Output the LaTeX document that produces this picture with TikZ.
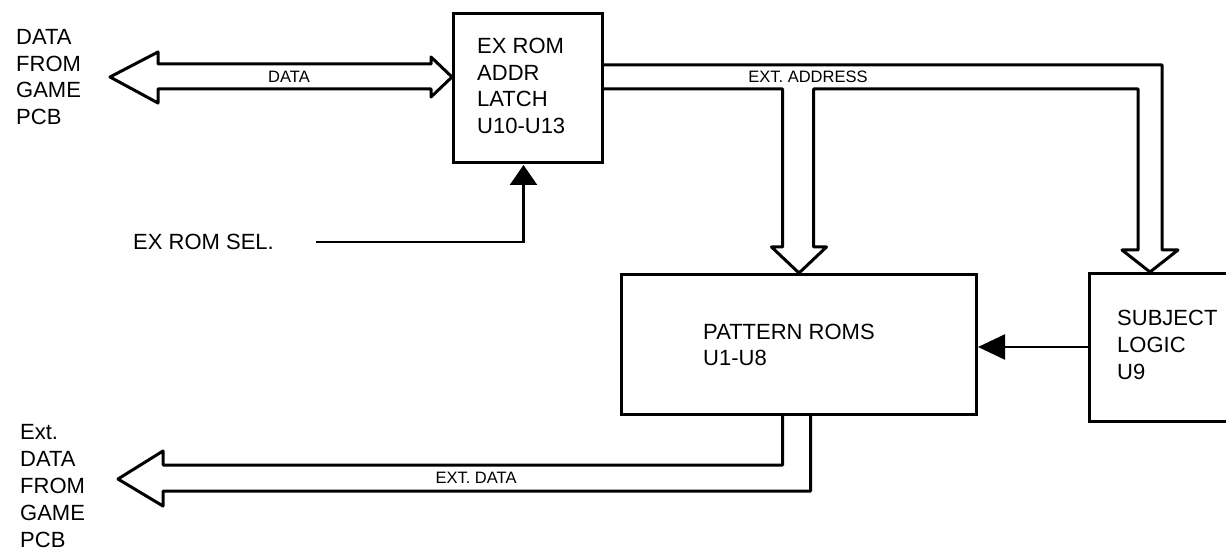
\documentclass[tikz,border=0pt]{standalone}
\usepackage{fontspec}
\setmainfont{Liberation Sans}
\usetikzlibrary{calc,arrows.meta}
\tikzset{
  box/.style={draw, line width=3pt, inner sep=0pt},
  bus/.style={draw, line width=3pt, line join=round},
  sig/.style={draw, line width=2.4pt},
  big/.style={font=\fontsize{22}{26.8}\selectfont, align=left, inner sep=0pt, anchor=west},
  small/.style={font=\fontsize{16.5}{18}\selectfont, inner sep=0pt},
}
\begin{document}
\begin{tikzpicture}[x=1pt,y=-1pt]
\useasboundingbox (0,0) rectangle (1226,553);
\clip (0,0) rectangle (1226,553);

% helper y-levels
\coordinate (y65) at (0,65);
\coordinate (y89) at (0,89);
\coordinate (y77) at (0,77);
\coordinate (y347) at (0,347);
\coordinate (y465) at (0,465);
\coordinate (y491) at (0,491);

% boxes
\node[box, minimum width=149pt, minimum height=149pt, anchor=north west] (latch) at (452,12) {};
\node[big] (latchtxt) at (477,86) {EX ROM\\ADDR\\LATCH\\U10-U13};
\node[box, minimum width=355pt, minimum height=140pt, anchor=north west] (pattern) at (620,273) {};
\node[big] (pattxt) at (703,345) {PATTERN ROMS\\U1-U8};
\node[box, minimum width=170pt, minimum height=148pt, anchor=north west] (subj) at (1088,272) {};
\node[big] (subjtxt) at (1117,345) {SUBJECT\\LOGIC\\U9};

% outside texts
\node[big] (datain) at (16,77) {DATA\\FROM\\GAME\\PCB};
\node[big] (extout) at (20,486) {Ext.\\DATA\\FROM\\GAME\\PCB};
\node[big] (sel) at (133,242) {EX ROM SEL.};

% DATA double arrow
\coordinate (dl) at (110,77);
\coordinate (dr) at (latch.west |- y77);
\draw[bus] (dl) -- ($(dl)+(48,-25)$) -- ($(dl)+(48,-13)$) -- ($(dr)+(-21,-13)$)
  -- ($(dr)+(-21,-20)$) -- (dr) -- ($(dr)+(-21,20)$) -- ($(dr)+(-21,12)$)
  -- ($(dl)+(48,12)$) -- ($(dl)+(48,26)$) -- cycle;
\node[small] (datalbl) at (289,77) {DATA};

% EXT. ADDRESS bus
\coordinate (ptip) at (pattern.north);
\coordinate (stip) at ($(subj.north west)+(62,0)$);
\coordinate (sr) at ($(stip)+(12,-22)$);
\coordinate (sl) at ($(stip)+(-12,-22)$);
\coordinate (pr) at ($(ptip)+(14.5,-26)$);
\coordinate (pl) at ($(ptip)+(-16.5,-26)$);
\draw[bus] (latch.east |- y65) -| (sr) -- ($(stip)+(28,-22)$) -- (stip)
  -- ($(stip)+(-28,-22)$) -- (sl) -- (sl |- y89) -| (pr)
  -- ($(ptip)+(27.5,-26)$) -- (ptip) -- ($(ptip)+(-27.5,-26)$) -- (pl)
  |- (latch.east |- y89);
\node[small] (addrlbl) at (808,77) {EXT. ADDRESS};

% subject logic -> pattern roms
\draw[sig, -{Triangle[length=27pt,width=25pt]}] (subj.west |- y347) -- (pattern.east |- y347);

% EX ROM SEL
\coordinate (selin) at ($(latch.south)+(-4.5,1)$);
\draw[sig, -{Triangle[length=20pt,width=27pt]}] ($(sel.east)+(42,0)$) -| (selin);

% EXT. DATA arrow
\coordinate (xl) at (118,479);
\coordinate (hx) at ($(xl)+(45,0)$);
\coordinate (ea) at ($(pattern.south)+(-16.5,0)$);
\coordinate (eb) at ($(pattern.south)+(11.5,0)$);
\draw[bus] (ea) |- (hx |- y465) -- ($(xl)+(45,-28)$) -- (xl) -- ($(xl)+(45,27)$)
  -- (hx |- y491) -| (eb);
\node[small] (extlbl) at (476,478) {EXT. DATA};

\end{tikzpicture}
\end{document}
